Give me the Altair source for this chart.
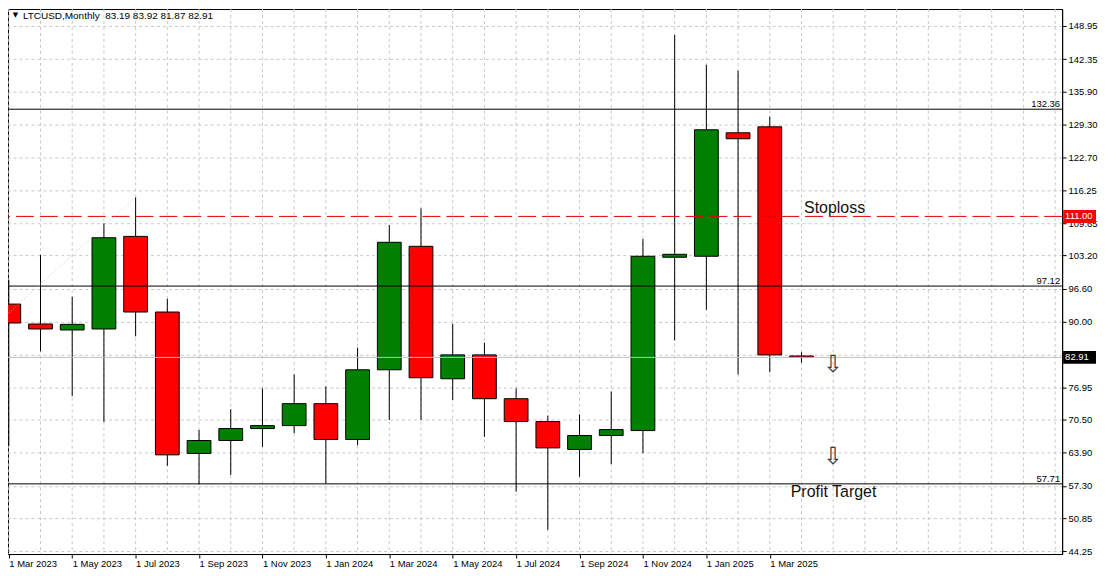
import json
import altair as alt
import pandas as pd

# ---------------- data ----------------
months = ["Mar 2023", "Apr 2023", "May 2023", "Jun 2023", "Jul 2023", "Aug 2023",
          "Sep 2023", "Oct 2023", "Nov 2023", "Dec 2023", "Jan 2024", "Feb 2024",
          "Mar 2024", "Apr 2024", "May 2024", "Jun 2024", "Jul 2024", "Aug 2024",
          "Sep 2024", "Oct 2024", "Nov 2024", "Dec 2024", "Jan 2025", "Feb 2025",
          "Mar 2025", "Apr 2025"]
opens = [93.53, 89.56, 88.37, 88.57, 107.02, 91.95, 63.77, 66.35, 68.73, 69.32,
         73.69, 66.55, 80.44, 105.04, 78.65, 83.41, 74.68, 70.12, 64.57, 67.34,
         68.33, 102.86, 103.06, 127.66, 128.85, 83.19]
highs = [98.35, 103.32, 94.98, 109.60, 114.82, 94.58, 68.45, 72.56, 76.73, 79.51,
         77.12, 84.86, 109.27, 112.58, 89.62, 85.85, 76.73, 71.31, 71.57, 76.13,
         106.49, 147.16, 141.21, 140.02, 130.89, 83.92]
lows = [65.28, 84.13, 75.20, 70.05, 87.10, 61.31, 57.62, 59.47, 65.08, 67.80,
        57.82, 65.42, 70.44, 70.44, 74.41, 67.07, 56.15, 48.55, 59.13, 61.65,
        63.83, 86.31, 92.40, 79.51, 79.96, 81.87]
closes = [89.76, 88.57, 89.49, 106.75, 91.95, 63.49, 66.35, 68.73, 69.32, 73.69,
          66.55, 80.44, 105.84, 78.85, 83.41, 74.68, 70.12, 64.88, 67.34, 68.53,
          103.06, 103.45, 128.26, 126.47, 83.41, 82.91]

x_tick_labels = ["1 Mar 2023", "1 May 2023", "1 Jul 2023", "1 Sep 2023", "1 Nov 2023",
                 "1 Jan 2024", "1 Mar 2024", "1 May 2024", "1 Jul 2024", "1 Sep 2024",
                 "1 Nov 2024", "1 Jan 2025", "1 Mar 2025"]
y_ticks = [148.95, 142.35, 135.90, 129.30, 122.70, 116.25, 109.65, 103.20, 96.60,
           90.00, 83.45, 76.95, 70.50, 63.90, 57.30, 50.85, 44.25]
hidden_y_label = 83.45

level_values = [132.36, 97.12, 57.71]
stoploss_value = 111.00
last_price = 82.91
trend_k = [0, 4]
trend_v = [91.75, 114.82]
arrow_k = [26, 26]
arrow_v = [81.3, 63.0]
notes_text = ["Stoploss", "Profit Target"]
notes_k = [25.08, 24.66]
notes_v = [111.00, 57.71]
notes_dy = [-3, 13]
title_text = "LTCUSD,Monthly\u00a0 83.19 83.92 81.87 82.91"

# ---------------- layout ----------------
W, H = 1058, 547
X_DOM = [-0.025, 33.22]
Y_DOM = [43.73, 152.32]
FONT = "Liberation Sans"
GRID = "#c8c8c8"

n = len(months)
candles = pd.DataFrame({"k": list(range(n)), "month": months, "open": opens,
                        "high": highs, "low": lows, "close": closes})

xscale = alt.Scale(domain=X_DOM, nice=False, zero=False)
yscale = alt.Scale(domain=Y_DOM, nice=False, zero=False)

label_expr = json.dumps(x_tick_labels) + "[round(datum.value / 2)]"
xaxis = alt.Axis(values=list(range(0, 2 * len(x_tick_labels), 2)), labelExpr=label_expr,
                 labelAlign="left", labelBaseline="top", labelFlush=False, labelOverlap=False,
                 tickSize=4, tickColor="black", domainColor="black", labelColor="black",
                 labelFont=FONT, labelFontSize=9.5, labelPadding=1, grid=False,
                 orient="bottom")
y_label_expr = (f"abs(datum.value - {hidden_y_label}) < 0.001 ? '' : "
                "format(datum.value, '.2f')")
yaxis = alt.Axis(values=y_ticks, labelExpr=y_label_expr, orient="right", tickSize=4,
                 tickColor="black", domainColor="black", labelColor="black",
                 labelFont=FONT, labelFontSize=9.5, labelPadding=2, labelFlush=False,
                 labelOverlap=False, grid=True, gridColor=GRID, gridDash=[3, 3])


def X(f):
    return alt.X(f, type="quantitative", scale=xscale, axis=xaxis, title=None)


def Y(f):
    return alt.Y(f, type="quantitative", scale=yscale, axis=yaxis, title=None)


# vertical grid (one dashed line per bar)
vgrid = alt.Chart(pd.DataFrame({"g": list(range(0, 34))})).mark_rule(
    color=GRID, strokeDash=[3, 3], strokeWidth=1, clip=True
).encode(x=X("g"))

base = alt.Chart(candles).transform_calculate(
    lo="min(datum.open, datum.close)",
    hi="max(datum.open, datum.close)",
    xa="datum.k - 0.375",
    xb="datum.k + 0.375",
    dir="datum.close >= datum.open ? 'up' : 'down'",
)

wicks = base.mark_rule(color="black", strokeWidth=1, clip=True).encode(
    x=X("k"), y=Y("low"), y2=alt.Y2("high"))

bodies = base.mark_rect(stroke="black", strokeWidth=1, clip=True).encode(
    x=X("xa"), x2=alt.X2("xb"), y=Y("lo"), y2=alt.Y2("hi"),
    fill=alt.Fill("dir:N", scale=alt.Scale(domain=["up", "down"],
                                           range=["#008000", "#ff0000"]), legend=None))

# horizontal level lines
levels_df = pd.DataFrame({"v": level_values})
levels = alt.Chart(levels_df).mark_rule(color="black", strokeWidth=1).encode(y=Y("v"))
level_labels = alt.Chart(levels_df).mark_text(
    align="right", baseline="alphabetic", dy=-2, font=FONT, fontSize=9.5, color="black"
).encode(x=alt.value(W - 2), y=Y("v"), text=alt.Text("v:Q", format=".2f"))

stop_df = pd.DataFrame({"v": [stoploss_value]})
stop_line = alt.Chart(stop_df).mark_rule(color="#e60000", strokeWidth=1,
                                         strokeDash=[18, 6]).encode(y=Y("v"))

bid_df = pd.DataFrame({"v": [last_price]})
bid_line = alt.Chart(bid_df).mark_rule(color="#c0c0c0", strokeWidth=1).encode(y=Y("v"))

trend = alt.Chart(pd.DataFrame({"k": trend_k, "v": trend_v})).mark_line(
    color="#c8c8c8", strokeWidth=1, strokeDash=[1, 2], clip=True
).encode(x=X("k"), y=Y("v"))

arrows = alt.Chart(pd.DataFrame({"k": arrow_k, "v": arrow_v})).mark_text(
    text="\u21e9", font="DejaVu Sans", fontSize=24, color="#3a3a3a",
    align="center", baseline="middle"
).encode(x=X("k"), y=Y("v"))

notes_df = pd.DataFrame({"t": notes_text, "k": notes_k, "v": notes_v})
note_stop = alt.Chart(notes_df.iloc[[0]]).mark_text(
    align="left", baseline="alphabetic", dy=notes_dy[0], font=FONT, fontSize=16,
    color="#111111"
).encode(x=X("k"), y=Y("v"), text="t:N")
note_pt = alt.Chart(notes_df.iloc[[1]]).mark_text(
    align="left", baseline="alphabetic", dy=notes_dy[1], font=FONT, fontSize=16,
    color="#111111"
).encode(x=X("k"), y=Y("v"), text="t:N")

# price boxes on the right axis
px_per_unit = H / (Y_DOM[1] - Y_DOM[0])
half = 6.5 / px_per_unit
boxes_df = pd.DataFrame({"v": [stoploss_value, last_price],
                         "lab": ["111.00", "82.91"],
                         "col": ["#ff0000", "#000000"]})
boxes = alt.Chart(boxes_df).transform_calculate(
    lo=f"datum.v - {half}", hi=f"datum.v + {half}"
).mark_rect().encode(
    x=alt.value(W + 1), x2=alt.value(W + 34), y=Y("lo"), y2=alt.Y2("hi"),
    fill=alt.Fill("col:N", scale=None))
box_text = alt.Chart(boxes_df).mark_text(
    align="left", baseline="middle", font=FONT, fontSize=9.5, color="white"
).encode(x=alt.value(W + 3), y=Y("v"), text="lab:N")

title_df = pd.DataFrame({"t": [title_text]})
title = alt.Chart(title_df).mark_text(
    align="left", baseline="alphabetic", font=FONT, fontSize=10, color="black"
).encode(x=alt.value(15), y=alt.value(10.5), text="t:N")
tri = alt.Chart(pd.DataFrame({"t": ["\u25bc"]})).mark_text(
    align="center", baseline="middle", font="DejaVu Sans", fontSize=7, color="black"
).encode(x=alt.value(7.5), y=alt.value(6.5), text="t:N")

chart = alt.layer(
    vgrid, wicks, bodies, bid_line, levels, stop_line, trend, level_labels,
    arrows, note_stop, note_pt, boxes, box_text, title, tri
).properties(
    width=W, height=H,
    autosize=alt.AutoSizeParams(type="none"),
    padding={"left": 0, "top": 0, "right": 36, "bottom": 15},
    background="white",
).configure_view(stroke="black", strokeWidth=1, fill="white")

chart.save("out.html", embed_options={"renderer": "svg", "actions": False})
